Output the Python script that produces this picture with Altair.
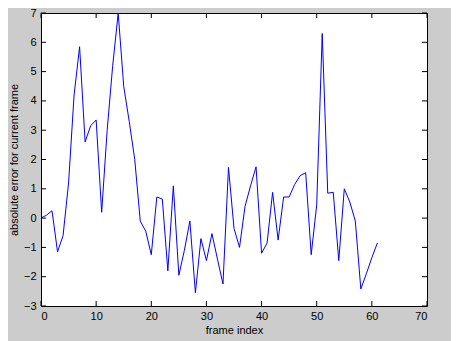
import altair as alt
import pandas as pd

frames = list(range(62))
errors = [0.0, 0.1, 0.25, -1.15, -0.6, 1.2, 4.2, 5.85, 2.6, 3.15,
          3.35, 0.2, 3.0, 5.2, 7.0, 4.5, 3.3, 2.0, -0.1, -0.45,
          -1.25, 0.72, 0.65, -1.8, 1.1, -1.95, -1.1, -0.1, -2.55, -0.7,
          -1.45, -0.53, -1.4, -2.25, 1.73, -0.35, -1.0, 0.4, 1.1, 1.75,
          -1.2, -0.85, 0.88, -0.75, 0.72, 0.72, 1.15, 1.45, 1.55, -1.25,
          0.45, 6.3, 0.85, 0.88, -1.45, 1.0, 0.55, -0.1, -2.42, -1.9,
          -1.35, -0.85]
x_ticks = [0, 10, 20, 30, 40, 50, 60, 70]
y_ticks = [-3, -2, -1, 0, 1, 2, 3, 4, 5, 6, 7]

W, H = 386, 293
FONT = "Liberation Sans"

df = pd.DataFrame({"frame": frames, "err": errors})
xt = pd.DataFrame({"t": x_ticks})
yt = pd.DataFrame({"t": y_ticks})

xscale = alt.Scale(domain=[0, 70], nice=False, zero=False)
yscale = alt.Scale(domain=[-3, 7], nice=False, zero=False)

xaxis = alt.Axis(values=x_ticks, title="frame index", grid=False, ticks=False,
                 domain=False, labelPadding=4, titlePadding=3, format="d",
                 labelOverlap=False)
yaxis = alt.Axis(values=y_ticks, title="absolute error for current frame", grid=False,
                 ticks=False, domain=False, labelPadding=5, titlePadding=4, format="d",
                 labelOverlap=False)

line = alt.Chart(df).mark_line(color="#0000ff", strokeWidth=1, clip=True).encode(
    x=alt.X("frame:Q", scale=xscale, axis=xaxis, title="frame index"),
    y=alt.Y("err:Q", scale=yscale, axis=yaxis, title="absolute error for current frame"),
)

TL = 5
xb = alt.Chart(xt).mark_rule(color="black", strokeWidth=1).encode(
    x=alt.X("t:Q", scale=xscale, axis=xaxis, title="frame index"),
    y=alt.value(H), y2=alt.value(H - TL))
xtop = alt.Chart(xt).mark_rule(color="black", strokeWidth=1).encode(
    x=alt.X("t:Q", scale=xscale, axis=xaxis, title="frame index"),
    y=alt.value(0), y2=alt.value(TL))
yl = alt.Chart(yt).mark_rule(color="black", strokeWidth=1).encode(
    y=alt.Y("t:Q", scale=yscale, axis=yaxis, title="absolute error for current frame"),
    x=alt.value(0), x2=alt.value(TL))
yr = alt.Chart(yt).mark_rule(color="black", strokeWidth=1).encode(
    y=alt.Y("t:Q", scale=yscale, axis=yaxis, title="absolute error for current frame"),
    x=alt.value(W), x2=alt.value(W - TL))

chart = alt.layer(line, xb, xtop, yl, yr).properties(
    width=W, height=H,
    autosize=alt.AutoSizeParams(type="none"),
    padding={"left": 33, "top": 5, "right": 24, "bottom": 35},
    background="#cccccc",
).configure_view(
    fill="white", stroke="black", strokeWidth=1
).configure_axis(
    labelFont=FONT, titleFont=FONT, labelFontSize=11, titleFontSize=11,
    labelColor="black", titleColor="black", titleFontWeight="normal",
    labelOverlap=False,
)

chart.save("out.html", embed_options={"renderer": "svg", "actions": False})
